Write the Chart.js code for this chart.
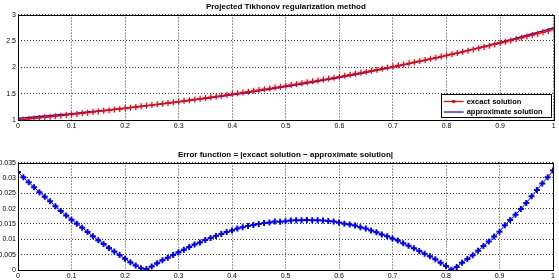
<!DOCTYPE html>
<html>
<head>
<meta charset="utf-8">
<script src="https://cdn.jsdelivr.net/npm/chart.js@4"></script>
<style>
  html, body { margin: 0; padding: 0; background: #fff; overflow: hidden; }
  .wrap { position: absolute; left: 0; width: 559px; height: 140px; }
</style>
</head>
<body>
<div class="wrap" style="top:0"><canvas id="top" width="559" height="140"></canvas></div>
<div class="wrap" style="top:140px"><canvas id="bottom" width="559" height="140"></canvas></div>
<script>
const xs = [0, 0.01, 0.02, 0.03, 0.04, 0.05, 0.06, 0.07, 0.08, 0.09,
  0.1, 0.11, 0.12, 0.13, 0.14, 0.15, 0.16, 0.17, 0.18, 0.19,
  0.2, 0.21, 0.22, 0.23, 0.24, 0.25, 0.26, 0.27, 0.28, 0.29,
  0.3, 0.31, 0.32, 0.33, 0.34, 0.35, 0.36, 0.37, 0.38, 0.39,
  0.4, 0.41, 0.42, 0.43, 0.44, 0.45, 0.46, 0.47, 0.48, 0.49,
  0.5, 0.51, 0.52, 0.53, 0.54, 0.55, 0.56, 0.57, 0.58, 0.59,
  0.6, 0.61, 0.62, 0.63, 0.64, 0.65, 0.66, 0.67, 0.68, 0.69,
  0.7, 0.71, 0.72, 0.73, 0.74, 0.75, 0.76, 0.77, 0.78, 0.79,
  0.8, 0.81, 0.82, 0.83, 0.84, 0.85, 0.86, 0.87, 0.88, 0.89,
  0.9, 0.91, 0.92, 0.93, 0.94, 0.95, 0.96, 0.97, 0.98, 0.99, 1];

const exactSolution = [1.000, 1.010, 1.020, 1.030, 1.041, 1.051, 1.062, 1.073, 1.083, 1.094,
  1.105, 1.116, 1.127, 1.139, 1.150, 1.162, 1.174, 1.185, 1.197, 1.209,
  1.221, 1.234, 1.246, 1.259, 1.271, 1.284, 1.297, 1.310, 1.323, 1.336,
  1.350, 1.363, 1.377, 1.391, 1.405, 1.419, 1.433, 1.448, 1.462, 1.477,
  1.492, 1.507, 1.522, 1.537, 1.553, 1.568, 1.584, 1.600, 1.616, 1.632,
  1.649, 1.665, 1.682, 1.699, 1.716, 1.733, 1.751, 1.768, 1.786, 1.804,
  1.822, 1.840, 1.859, 1.878, 1.896, 1.916, 1.935, 1.954, 1.974, 1.994,
  2.014, 2.034, 2.054, 2.075, 2.096, 2.117, 2.138, 2.160, 2.181, 2.203,
  2.226, 2.248, 2.270, 2.293, 2.316, 2.340, 2.363, 2.387, 2.411, 2.435,
  2.460, 2.484, 2.509, 2.535, 2.560, 2.586, 2.612, 2.638, 2.664, 2.691, 2.718];

const approxSolution = [1.032, 1.040, 1.049, 1.057, 1.066, 1.075, 1.084, 1.094, 1.102, 1.112,
  1.121, 1.131, 1.141, 1.151, 1.161, 1.172, 1.183, 1.192, 1.203, 1.214,
  1.225, 1.237, 1.248, 1.260, 1.271, 1.283, 1.295, 1.307, 1.319, 1.331,
  1.344, 1.356, 1.370, 1.383, 1.396, 1.409, 1.423, 1.437, 1.450, 1.465,
  1.479, 1.494, 1.508, 1.523, 1.538, 1.553, 1.569, 1.584, 1.600, 1.616,
  1.633, 1.649, 1.666, 1.683, 1.700, 1.717, 1.735, 1.752, 1.770, 1.788,
  1.806, 1.825, 1.844, 1.863, 1.882, 1.902, 1.922, 1.942, 1.962, 1.983,
  2.004, 2.024, 2.045, 2.067, 2.089, 2.111, 2.133, 2.155, 2.177, 2.201,
  2.225, 2.248, 2.271, 2.295, 2.320, 2.345, 2.369, 2.395, 2.420, 2.446,
  2.472, 2.499, 2.525, 2.553, 2.580, 2.608, 2.636, 2.664, 2.692, 2.721, 2.750];

const errorValues = [0.0319, 0.0302, 0.0286, 0.0270, 0.0253, 0.0239, 0.0224, 0.0208, 0.0192, 0.0178,
  0.0164, 0.0151, 0.0138, 0.0124, 0.0110, 0.0097, 0.0085, 0.0072, 0.0060, 0.0049,
  0.0037, 0.0025, 0.0015, 0.0006, 0.0003, 0.0011, 0.0022, 0.0032, 0.0040, 0.0049,
  0.0058, 0.0066, 0.0075, 0.0083, 0.0090, 0.0098, 0.0104, 0.0111, 0.0117, 0.0124,
  0.0129, 0.0135, 0.0139, 0.0143, 0.0147, 0.0150, 0.0153, 0.0155, 0.0158, 0.0157,
  0.0159, 0.0161, 0.0162, 0.0162, 0.0163, 0.0162, 0.0162, 0.0161, 0.0160, 0.0158,
  0.0155, 0.0151, 0.0148, 0.0145, 0.0139, 0.0135, 0.0129, 0.0123, 0.0116, 0.0110,
  0.0103, 0.0096, 0.0087, 0.0079, 0.0071, 0.0062, 0.0053, 0.0045, 0.0035, 0.0024,
  0.0013, 0.0001, 0.0010, 0.0024, 0.0036, 0.0048, 0.0063, 0.0078, 0.0093, 0.0109,
  0.0125, 0.0146, 0.0163, 0.0180, 0.0199, 0.0218, 0.0240, 0.0261, 0.0282, 0.0302, 0.0324];

const xTickLabels = ['0', '0.1', '0.2', '0.3', '0.4', '0.5', '0.6', '0.7', '0.8', '0.9', '1'];
const topYTickLabels = ['1', '1.5', '2', '2.5', '3'];
const bottomYTickLabels = ['0', '0.005', '0.01', '0.015', '0.02', '0.025', '0.03', '0.035'];

const topTitle = 'Projected Tikhonov regularization method';
const bottomTitle = 'Error function = |excact solution \u2212 approximate solution|';
const seriesNames = ['excact solution', 'approximate solution'];

const FONT = '"Liberation Sans", Arial, sans-serif';

function pts(ys) {
  return xs.map((x, i) => ({ x: x, y: ys[i] }));
}

// black frame round the plot area, like matlab's box on
const boxPlugin = {
  id: 'box',
  afterDraw(chart) {
    const a = chart.chartArea;
    const ctx = chart.ctx;
    ctx.save();
    ctx.strokeStyle = '#000';
    ctx.lineWidth = 1;
    ctx.strokeRect(Math.round(a.left) + 0.5, Math.round(a.top) + 0.5,
      Math.round(a.right - a.left), Math.round(a.bottom - a.top));
    ctx.restore();
  }
};

// legend box in the lower right corner of the top plot
const legendPlugin = {
  id: 'boxLegend',
  afterDraw(chart) {
    const a = chart.chartArea;
    const ctx = chart.ctx;
    const w = 110, h = 23;
    const x0 = a.right - w - 3, y0 = a.bottom - h - 3;
    ctx.save();
    ctx.fillStyle = '#fff';
    ctx.fillRect(x0, y0, w, h);
    ctx.strokeStyle = '#000';
    ctx.lineWidth = 1;
    ctx.strokeRect(Math.round(x0) + 0.5, Math.round(y0) + 0.5, w, h);
    ctx.font = 'bold 7.5px ' + FONT;
    ctx.textBaseline = 'middle';
    chart.data.datasets.forEach((ds, i) => {
      const ly = y0 + 7.5 + i * 10.5;
      ctx.strokeStyle = ds.borderColor;
      ctx.lineWidth = 1.2;
      ctx.beginPath();
      ctx.moveTo(x0 + 3, ly);
      ctx.lineTo(x0 + 23, ly);
      ctx.stroke();
      if (ds.pointRadius > 0) {
        ctx.fillStyle = ds.borderColor;
        ctx.fillRect(x0 + 11.5, ly - 1.5, 3, 3);
      }
      ctx.fillStyle = '#000';
      ctx.fillText(ds.label, x0 + 26, ly);
    });
    ctx.restore();
  }
};

function axes(yMin, yMax, yStep, yLabels, xHeight) {
  return {
    x: {
      type: 'linear', min: 0, max: 1,
      afterFit: s => { s.height = xHeight; },
      ticks: {
        stepSize: 0.1, padding: 2, maxRotation: 0, autoSkip: false,
        color: '#000', font: { family: FONT, size: 7 },
        callback: (v, i) => xTickLabels[i]
      },
      grid: { color: '#000', lineWidth: 0.8, drawTicks: false },
      border: { display: false, dash: [1, 2] }
    },
    y: {
      type: 'linear', min: yMin, max: yMax,
      afterFit: s => { s.width = 18; },
      ticks: {
        stepSize: yStep, padding: 2, autoSkip: false,
        color: '#000', font: { family: FONT, size: 7 },
        callback: (v, i) => yLabels[i]
      },
      grid: { color: '#000', lineWidth: 0.8, drawTicks: false },
      border: { display: false, dash: [1, 2] }
    }
  };
}

function titleOpts(text) {
  return {
    display: true, text: text, fullSize: false, color: '#000',
    font: { family: FONT, size: 8, weight: 'bold' },
    padding: { top: 0, bottom: 3 }
  };
}

new Chart(document.getElementById('top'), {
  type: 'line',
  data: {
    datasets: [
      {
        label: seriesNames[0], data: pts(exactSolution),
        borderColor: '#ff0000', borderWidth: 1,
        pointStyle: 'cross', pointRadius: 3, pointBorderWidth: 1.3,
        pointBorderColor: '#ff0000', tension: 0
      },
      {
        label: seriesNames[1], data: pts(approxSolution),
        borderColor: '#0000ff', borderWidth: 1.4,
        pointRadius: 0, tension: 0
      }
    ]
  },
  options: {
    responsive: false, animation: false, events: [],
    layout: { padding: { left: 0, right: 2, top: 2, bottom: 0 } },
    scales: axes(1, 3, 0.5, topYTickLabels, 20),
    plugins: { legend: { display: false }, tooltip: { enabled: false }, title: titleOpts(topTitle) }
  },
  plugins: [boxPlugin, legendPlugin]
});

new Chart(document.getElementById('bottom'), {
  type: 'line',
  data: {
    datasets: [{
      label: 'error', data: pts(errorValues),
      borderColor: '#0000ff', borderWidth: 1,
      pointStyle: 'cross', pointRadius: 3, pointBorderWidth: 2,
      pointBorderColor: '#0000ff', tension: 0
    }]
  },
  options: {
    responsive: false, animation: false, events: [],
    layout: { padding: { left: 0, right: 2, top: 10, bottom: 0 } },
    scales: axes(0, 0.035, 0.005, bottomYTickLabels, 10),
    plugins: { legend: { display: false }, tooltip: { enabled: false }, title: titleOpts(bottomTitle) }
  },
  plugins: [boxPlugin]
});
</script>
</body>
</html>
